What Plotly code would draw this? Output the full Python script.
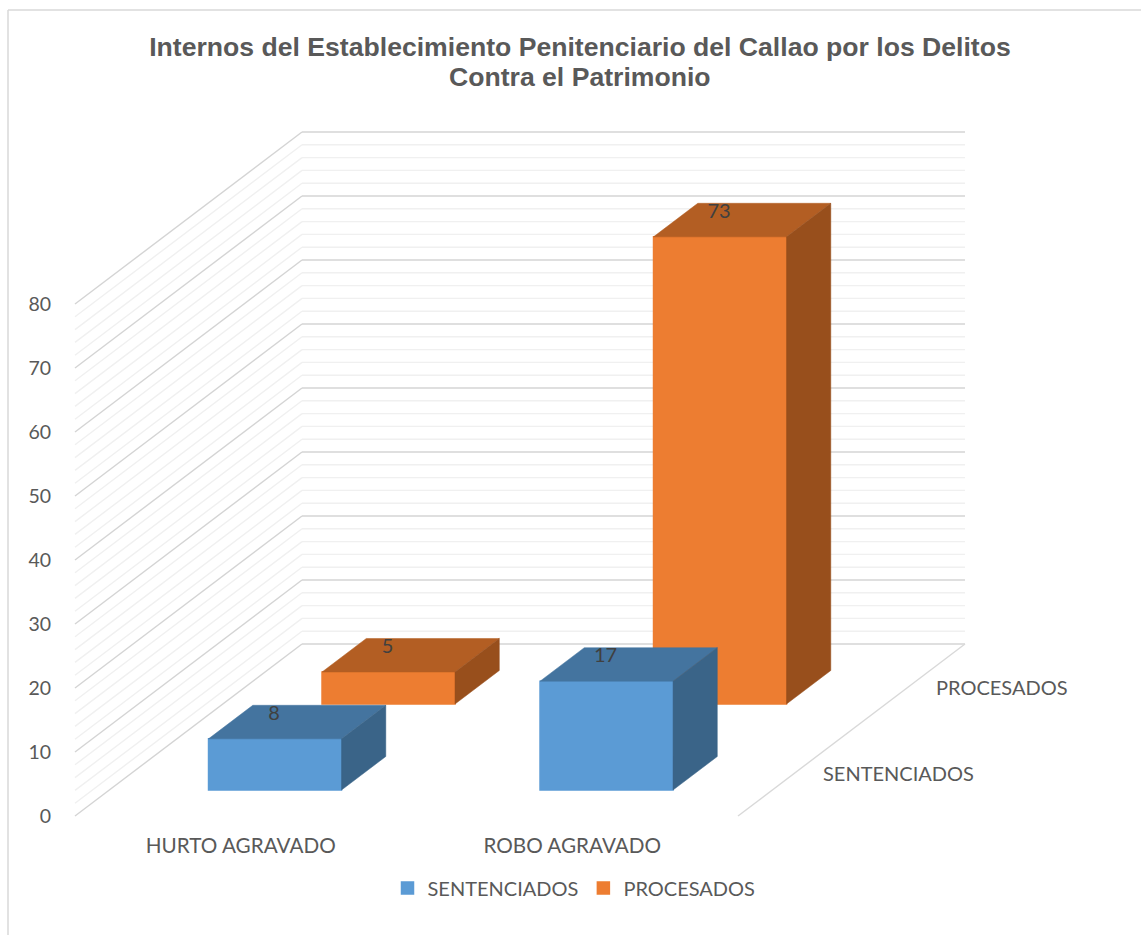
import plotly.graph_objects as go

categories = ["HURTO AGRAVADO", "ROBO AGRAVADO"]
series_names = ["SENTENCIADOS", "PROCESADOS"]
sentenciados = [8, 17]
procesados = [5, 73]
axis_ticks = list(range(0, 81, 10))
grid_ticks = list(range(0, 81, 2))
title_lines = ["Internos del Establecimiento Penitenciario del Callao por los Delitos",
               "Contra el Patrimonio"]

W, H = 1141, 935
L, R, T, B = 60, 1100, 100, 826      # plot area in px
ORIGIN_X, ORIGIN_Y = 75, 816          # floor front-left corner, px
PX_CAT, PX_UNIT = 331.5, 6.4          # px per category, px per value unit
DX = 227 / PX_CAT                     # oblique depth vector, axis units
DY = 172 / PX_UNIT
BAR_W = 133 / PX_CAT
BAR_D = 0.195
SERIES_D = [0.151, 0.651]
FRONT = ["#5B9BD5", "#ED7D31"]
TOP = ["#44749F", "#B35E23"]
SIDE = ["#3A6488", "#984F1C"]
TEXT = "#595959"
FONT = "Lato"


def proj(cat, depth, val):
    return cat + depth * DX, val + depth * DY


fig = go.Figure()
shapes = []


def seg(p, q, color, width):
    shapes.append(dict(type="line", xref="x", yref="y", x0=p[0], y0=p[1], x1=q[0], y1=q[1],
                       line=dict(color=color, width=width), layer="below"))


for v in grid_ticks:
    major = v in axis_ticks
    c, w = ("#D4D4D4", 1.4) if major else ("#F0F0F0", 1.4)
    seg(proj(0, 0, v), proj(0, 1, v), c, w)
    seg(proj(0, 1, v), proj(2, 1, v), c, w)
seg(proj(2, 0, 0), proj(2, 1, 0), "#D9D9D9", 1.4)

all_values = [sentenciados, procesados]
# back series first so the front series paints over it
for s in (1, 0):
    name, vals = series_names[s], all_values[s]
    d0 = SERIES_D[s]
    d1 = d0 + BAR_D
    centers = [i + 0.5 + d0 * DX for i in range(len(categories))]
    fig.add_bar(x=centers, y=vals, base=[d0 * DY] * len(vals), width=BAR_W, name=name,
                legendrank=s + 1,
                marker=dict(color=FRONT[s], line=dict(width=1.5, color=FRONT[s])), showlegend=True,
                hoverinfo="skip")
    for i, v in enumerate(vals):
        c0, c1 = i + 0.5 - BAR_W / 2, i + 0.5 + BAR_W / 2
        top = [proj(c0, d0, v), proj(c1, d0, v), proj(c1, d1, v), proj(c0, d1, v)]
        side = [proj(c1, d0, 0), proj(c1, d0, v), proj(c1, d1, v), proj(c1, d1, 0)]
        for poly, col in ((top, TOP[s]), (side, SIDE[s])):
            fig.add_scatter(x=[p[0] for p in poly] + [poly[0][0]],
                            y=[p[1] for p in poly] + [poly[0][1]],
                            mode="lines", fill="toself", fillcolor=col,
                            line=dict(width=0.5, color=col), showlegend=False, hoverinfo="skip")

# data labels sit above the centre of each front-top edge
for s, vals in enumerate(all_values):
    fig.add_scatter(x=[i + 0.5 + SERIES_D[s] * DX - 1 / PX_CAT for i in range(len(vals))],
                    y=[v + SERIES_D[s] * DY + 24 / PX_UNIT for v in vals],
                    mode="text", text=[str(v) for v in vals], textposition="middle center",
                    textfont=dict(family=FONT, size=20, color="#404040"),
                    showlegend=False, hoverinfo="skip")

# depth axis labels
for s, name in enumerate(series_names):
    x, y = proj(2, 0.25 + 0.5 * s, 0)
    fig.add_annotation(x=x, y=y, text=name, showarrow=False, xanchor="left", yanchor="middle",
                       xshift=26, font=dict(family=FONT, size=20, color=TEXT))


def px_x(p):
    return (p - L) / (R - L)


def px_y(p):
    return (B - p) / (B - T)


for x0, y0, x1, y1 in ((8, 10, 8, H), (8, 10, W, 10)):
    shapes.append(dict(type="line", xref="paper", yref="paper", x0=px_x(x0), y0=px_y(y0),
                       x1=px_x(x1), y1=px_y(y1), line=dict(color="#D9D9D9", width=1.5), layer="below"))

title_font = dict(family="Liberation Sans", size=26.6, color=TEXT, weight="bold")
fig.add_annotation(x=px_x(580), y=px_y(77), xref="paper", yref="paper", text=title_lines[1],
                   showarrow=False, xanchor="center", yanchor="middle", font=title_font)

fig.update_layout(
    width=W, height=H, autosize=False,
    margin=dict(l=L, r=W - R, t=T, b=H - B),
    paper_bgcolor="white", plot_bgcolor="rgba(0,0,0,0)",
    barmode="overlay", shapes=shapes,
    title=dict(text=title_lines[0], x=580 / W, xanchor="center", y=1 - 47 / H, yanchor="middle",
               font=title_font),
    xaxis=dict(range=[(L - ORIGIN_X) / PX_CAT, (R - ORIGIN_X) / PX_CAT], tickmode="array",
               tickvals=[i + 0.5 for i in range(len(categories))], ticktext=categories,
               showgrid=False, zeroline=False, showline=False, ticks="", ticklabelstandoff=5,
               tickfont=dict(family=FONT, size=20.7, color=TEXT)),
    yaxis=dict(range=[(ORIGIN_Y - B) / PX_UNIT, (ORIGIN_Y - T) / PX_UNIT], tickmode="array",
               tickvals=axis_ticks, showgrid=False, zeroline=False, showline=False, ticks="",
               ticklabelstandoff=8,
               tickfont=dict(family=FONT, size=19.5, color=TEXT)),
    legend=dict(orientation="h", x=574 / W, xanchor="center", xref="container",
                y=1 - 888 / H, yanchor="middle", yref="container",
                font=dict(family=FONT, size=20, color=TEXT)),
)

fig.write_html("out.html", config={"displayModeBar": False},
               post_script="document.body.style.margin='0';")
